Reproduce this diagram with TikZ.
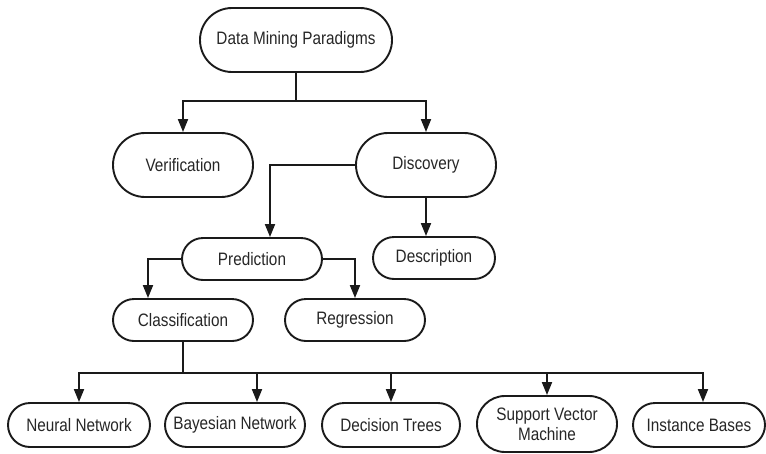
\documentclass[tikz,border=0pt]{standalone}
\usepackage{fontspec}
\setmainfont{Liberation Sans}[FakeStretch=0.85]
\usetikzlibrary{shapes.misc,arrows.meta}
\definecolor{ink}{HTML}{1A1A1A}
\definecolor{txt}{HTML}{262626}
\tikzset{
  pill/.style={draw=ink, line width=1.9pt, rounded rectangle, inner sep=0pt,
    text=txt, font=\fontsize{18}{20}\selectfont, align=center},
  big/.style={pill, minimum height=64pt},
  small/.style={pill, minimum height=42pt},
  leaf/.style={pill, minimum height=44pt},
  arr/.style={draw=ink, line width=1.9pt, -{Triangle[length=13pt,width=10pt]}},
  wire/.style={draw=ink, line width=1.9pt},
}
\begin{document}
\begin{tikzpicture}[x=1pt, y=-1pt]
\useasboundingbox (0,0) rectangle (766,453);

% top level
\node[big, minimum width=192pt] (dmp) at (296,40) {Data Mining Paradigms};
\node[big, minimum width=140pt] (ver) at (183,165) {Verification};
\node[big, minimum width=140pt] (dis) at (426,165) {Discovery};

% second level
\node[small, minimum width=140pt] (pre) at (252,259) {Prediction};
\node[small, minimum width=122pt] (des) at (434,258) {Description};
\node[small, minimum width=140pt] (cla) at (183,320) {Classification};
\node[small, minimum width=140pt] (reg) at (355,320) {Regression};

% leaves
\node[leaf, minimum width=142pt] (nn)  at (79,425)  {Neural Network};
\node[leaf, minimum width=140pt] (bn)  at (235,425) {Bayesian Network};
\node[leaf, minimum width=138pt] (dt)  at (391,425) {Decision Trees};
\node[pill, minimum width=140pt, minimum height=56pt] (svm) at (547,424) {Support Vector\\Machine};
\node[leaf, minimum width=132pt] (ib)  at (699,425) {Instance Bases};

% junctions
\coordinate (j1) at (296,101);
\coordinate (j2) at (183,373);

% connectors
\draw[wire] (dmp.south) -- (j1);
\draw[arr] (j1) -| (ver.north);
\draw[arr] (j1) -| (dis.north);

\draw[arr] (dis.west) -| ([xshift=18pt]pre.north);
\draw[arr] (dis.south) -- (dis.south |- des.north);

\draw[arr] (pre.west) -| ([xshift=-35pt]cla.north);
\draw[arr] (pre.east) -| (reg.north);

\draw[wire] (cla.south) -- (j2);
\draw[arr] (j2) -| (nn.north);
\draw[arr] (j2) -| ([xshift=22pt]bn.north);
\draw[arr] (j2) -| (dt.north);
\draw[arr] (j2) -| (svm.north);
\draw[arr] (j2) -| ([xshift=4pt]ib.north);
\end{tikzpicture}
\end{document}
